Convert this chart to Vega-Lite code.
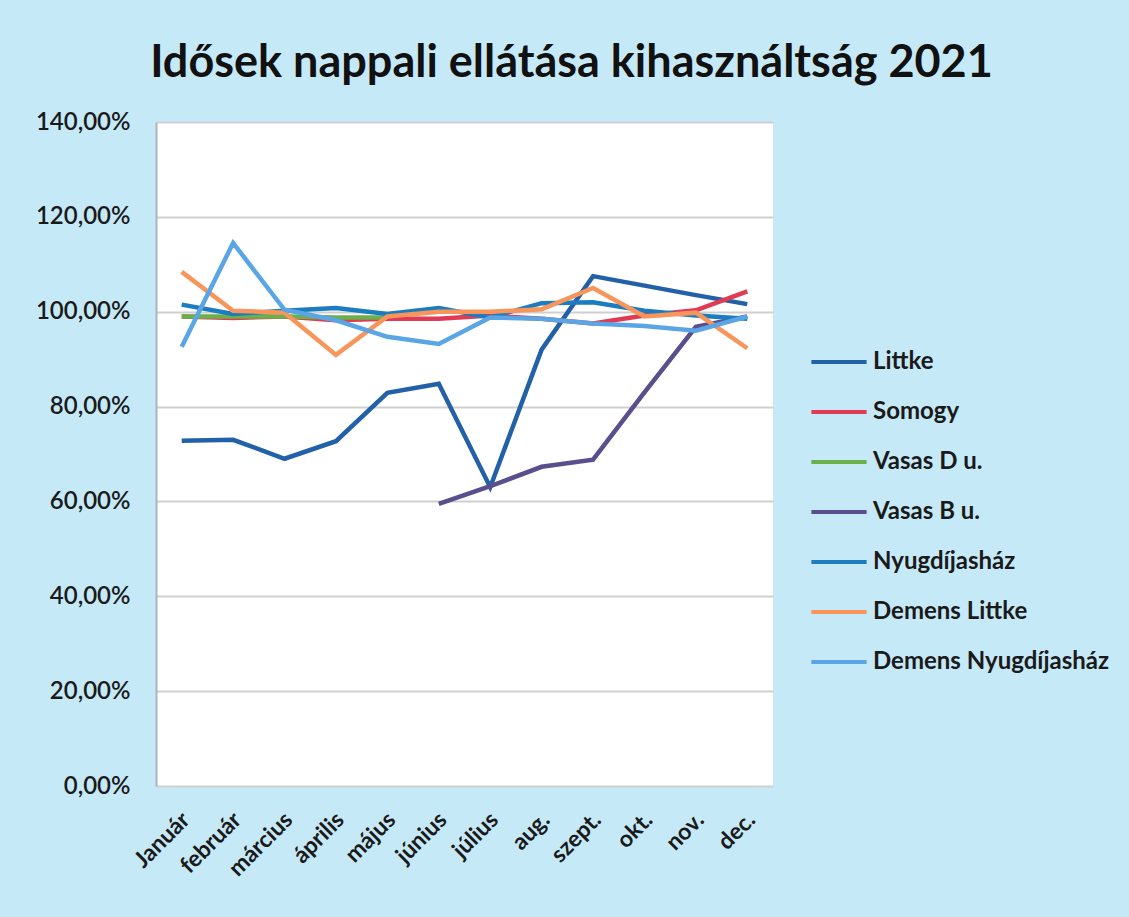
{
  "$schema": "https://vega.github.io/schema/vega-lite/v6.json",
  "autosize": {"type": "none"},
  "padding": {"left": 156, "top": 122, "right": 356, "bottom": 131},
  "width": 617,
  "height": 664,
  "background": "#c6e9f8",
  "title": {
    "text": "Idősek nappali ellátása kihasználtság 2021",
    "font": "Lato",
    "fontSize": 45,
    "fontWeight": "bold",
    "color": "#111111",
    "anchor": "middle",
    "dx": 107,
    "offset": 24
  },
  "data": {
    "values": [
      {"month": "Január", "series": "Littke", "value": 0.728},
      {"month": "február", "series": "Littke", "value": 0.730},
      {"month": "március", "series": "Littke", "value": 0.690},
      {"month": "április", "series": "Littke", "value": 0.727},
      {"month": "május", "series": "Littke", "value": 0.829},
      {"month": "június", "series": "Littke", "value": 0.848},
      {"month": "július", "series": "Littke", "value": 0.630},
      {"month": "aug.", "series": "Littke", "value": 0.920},
      {"month": "szept.", "series": "Littke", "value": 1.075},
      {"month": "okt.", "series": "Littke", "value": 1.055},
      {"month": "nov.", "series": "Littke", "value": 1.035},
      {"month": "dec.", "series": "Littke", "value": 1.016},

      {"month": "Január", "series": "Somogy", "value": 0.990},
      {"month": "február", "series": "Somogy", "value": 0.987},
      {"month": "március", "series": "Somogy", "value": 0.990},
      {"month": "április", "series": "Somogy", "value": 0.982},
      {"month": "május", "series": "Somogy", "value": 0.985},
      {"month": "június", "series": "Somogy", "value": 0.985},
      {"month": "július", "series": "Somogy", "value": 0.992},
      {"month": "aug.", "series": "Somogy", "value": 0.985},
      {"month": "szept.", "series": "Somogy", "value": 0.975},
      {"month": "okt.", "series": "Somogy", "value": 0.992},
      {"month": "nov.", "series": "Somogy", "value": 1.003},
      {"month": "dec.", "series": "Somogy", "value": 1.043},

      {"month": "Január", "series": "Vasas D u.", "value": 0.990},
      {"month": "február", "series": "Vasas D u.", "value": 0.990},
      {"month": "március", "series": "Vasas D u.", "value": 0.990},
      {"month": "április", "series": "Vasas D u.", "value": 0.988},
      {"month": "május", "series": "Vasas D u.", "value": 0.988},

      {"month": "június", "series": "Vasas B u.", "value": 0.595},
      {"month": "július", "series": "Vasas B u.", "value": 0.632},
      {"month": "aug.", "series": "Vasas B u.", "value": 0.673},
      {"month": "szept.", "series": "Vasas B u.", "value": 0.688},
      {"month": "okt.", "series": "Vasas B u.", "value": 0.830},
      {"month": "nov.", "series": "Vasas B u.", "value": 0.968},
      {"month": "dec.", "series": "Vasas B u.", "value": 0.990},

      {"month": "Január", "series": "Nyugdíjasház", "value": 1.015},
      {"month": "február", "series": "Nyugdíjasház", "value": 0.995},
      {"month": "március", "series": "Nyugdíjasház", "value": 1.002},
      {"month": "április", "series": "Nyugdíjasház", "value": 1.008},
      {"month": "május", "series": "Nyugdíjasház", "value": 0.995},
      {"month": "június", "series": "Nyugdíjasház", "value": 1.008},
      {"month": "július", "series": "Nyugdíjasház", "value": 0.988},
      {"month": "aug.", "series": "Nyugdíjasház", "value": 1.018},
      {"month": "szept.", "series": "Nyugdíjasház", "value": 1.020},
      {"month": "okt.", "series": "Nyugdíjasház", "value": 1.002},
      {"month": "nov.", "series": "Nyugdíjasház", "value": 0.992},
      {"month": "dec.", "series": "Nyugdíjasház", "value": 0.985},

      {"month": "Január", "series": "Demens Littke", "value": 1.084},
      {"month": "február", "series": "Demens Littke", "value": 1.002},
      {"month": "március", "series": "Demens Littke", "value": 0.998},
      {"month": "április", "series": "Demens Littke", "value": 0.909},
      {"month": "május", "series": "Demens Littke", "value": 0.990},
      {"month": "június", "series": "Demens Littke", "value": 1.000},
      {"month": "július", "series": "Demens Littke", "value": 1.000},
      {"month": "aug.", "series": "Demens Littke", "value": 1.005},
      {"month": "szept.", "series": "Demens Littke", "value": 1.050},
      {"month": "okt.", "series": "Demens Littke", "value": 0.990},
      {"month": "nov.", "series": "Demens Littke", "value": 0.998},
      {"month": "dec.", "series": "Demens Littke", "value": 0.923},

      {"month": "Január", "series": "Demens Nyugdíjasház", "value": 0.926},
      {"month": "február", "series": "Demens Nyugdíjasház", "value": 1.145},
      {"month": "március", "series": "Demens Nyugdíjasház", "value": 1.004},
      {"month": "április", "series": "Demens Nyugdíjasház", "value": 0.982},
      {"month": "május", "series": "Demens Nyugdíjasház", "value": 0.947},
      {"month": "június", "series": "Demens Nyugdíjasház", "value": 0.932},
      {"month": "július", "series": "Demens Nyugdíjasház", "value": 0.988},
      {"month": "aug.", "series": "Demens Nyugdíjasház", "value": 0.985},
      {"month": "szept.", "series": "Demens Nyugdíjasház", "value": 0.975},
      {"month": "okt.", "series": "Demens Nyugdíjasház", "value": 0.970},
      {"month": "nov.", "series": "Demens Nyugdíjasház", "value": 0.960},
      {"month": "dec.", "series": "Demens Nyugdíjasház", "value": 0.990}
    ]
  },
  "mark": {"type": "line", "strokeWidth": 4.5, "strokeJoin": "miter"},
  "encoding": {
    "x": {
      "field": "month",
      "type": "nominal",
      "sort": ["Január", "február", "március", "április", "május", "június", "július", "aug.", "szept.", "okt.", "nov.", "dec."],
      "scale": {"paddingInner": 0, "paddingOuter": 0.5},
      "axis": {
        "title": null,
        "labelAngle": -45,
        "labelAlign": "right",
        "labelBaseline": "middle",
        "labelPadding": 30,
        "labelFont": "Lato",
        "labelFontSize": 23,
        "labelFontWeight": "bold",
        "labelColor": "#1a1a1a",
        "ticks": false,
        "domain": false,
        "grid": false,
        "labelOffset": 4
      }
    },
    "y": {
      "field": "value",
      "type": "quantitative",
      "scale": {"domain": [0, 1.4], "nice": false},
      "axis": {
        "title": null,
        "values": [0, 0.2, 0.4, 0.6, 0.8, 1.0, 1.2, 1.4],
        "labelExpr": "replace(format(datum.value, '.2%'), '.', ',')",
        "labelFont": "Lato",
        "labelFontSize": 24,
        "labelFontWeight": 600,
        "labelColor": "#1a1a1a",
        "labelPadding": 26,
        "ticks": false,
        "domain": true,
        "domainColor": "#a9b4bf",
        "domainWidth": 2,
        "grid": true,
        "gridColor": "#cfcfcf",
        "gridWidth": 2
      }
    },
    "color": {
      "field": "series",
      "type": "nominal",
      "scale": {
        "domain": ["Littke", "Somogy", "Vasas D u.", "Vasas B u.", "Nyugdíjasház", "Demens Littke", "Demens Nyugdíjasház"],
        "range": ["#2260a8", "#e03a55", "#6ab04c", "#5b4e8c", "#1b7cc0", "#f7955a", "#5aa5e6"]
      },
      "legend": {
        "title": null,
        "orient": "none",
        "legendX": 657,
        "legendY": 214,
        "symbolType": "M-1.15,0L1.15,0",
        "symbolSize": 2304,
        "symbolStrokeWidth": 4,
        "rowPadding": 12,
        "labelOffset": 8,
        "labelFont": "Lato",
        "labelFontSize": 24,
        "labelFontWeight": "bold",
        "labelColor": "#1a1a1a",
        "labelLimit": 400,
        "padding": 0
      }
    }
  },
  "config": {
    "view": {"fill": "#ffffff", "stroke": null}
  }
}
